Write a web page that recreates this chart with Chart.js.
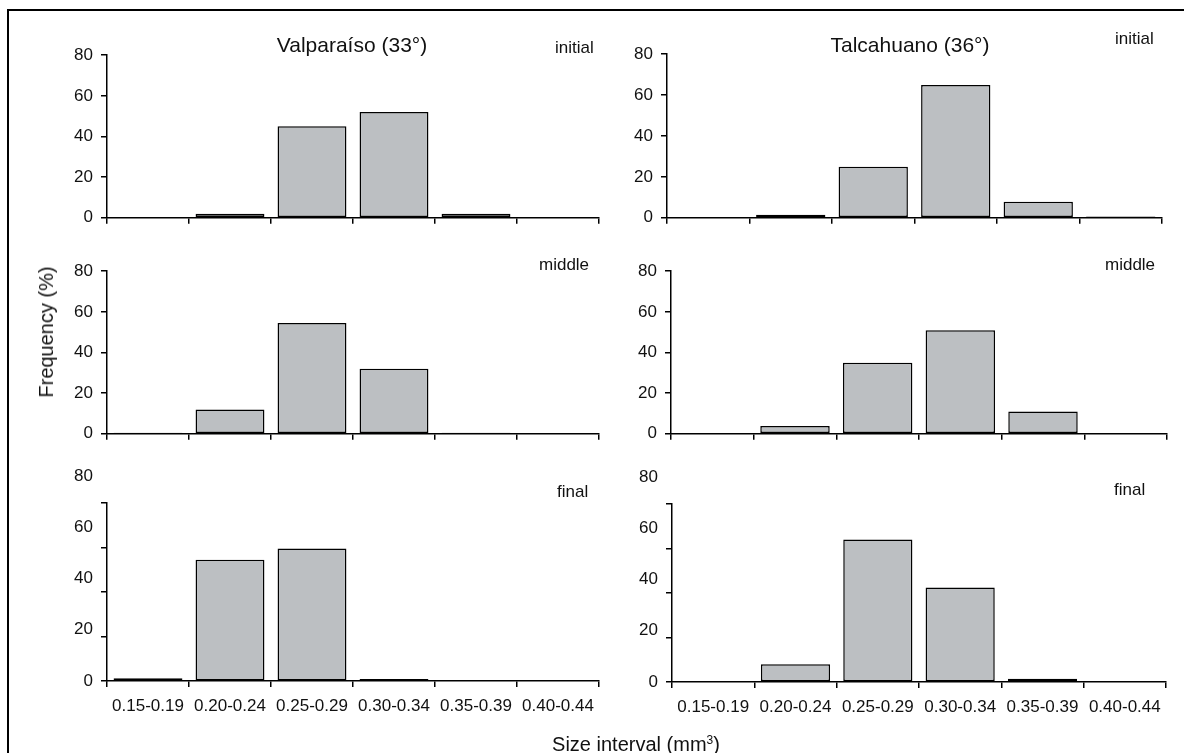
<!DOCTYPE html>
<html>
<head>
<meta charset="utf-8">
<script src="https://cdn.jsdelivr.net/npm/chart.js@4.4.1/dist/chart.umd.min.js"></script>
<style>
    body { margin: 0; background: #fff; width: 1184px; height: 753px; overflow: hidden;
           font-family: "Liberation Sans", Arial, sans-serif; color: #111; }
    #frame { position: absolute; left: 7px; top: 9px; width: 1200px; height: 760px;
             border-left: 2px solid #000; border-top: 2px solid #000; }
    canvas, .lbl { position: absolute; }
    .lbl { white-space: nowrap; line-height: 20px; font-size: 17px; }
    .title { font-size: 21px; line-height: 24px; }
    .axis { font-size: 20px; line-height: 24px; }
</style>
</head>
<body>
<div id="frame"></div>
<div id="wrap"></div>
<script>
// Classi di dimensione (asse x) e tacche (asse y)
const sizeClasses = ['0.15-0.19', '0.20-0.24', '0.25-0.29', '0.30-0.34', '0.35-0.39', '0.40-0.44'];
const yTicks = [0, 20, 40, 60, 80];

// Frequenze (%)
const valparaisoInitial = [0, 2, 45, 52, 2, 0];
const valparaisoMiddle  = [0.5, 12, 54.5, 32, 0.5, 0];
const valparaisoFinal   = [1.2, 54.5, 59.5, 0.9, 0, 0];
const talcahuanoInitial = [0, 1.5, 25, 65, 7.8, 0.6];
const talcahuanoMiddle  = [0, 3.8, 35, 51, 11, 0];
const talcahuanoFinal   = [0, 8, 64, 42.5, 1.5, 0];

const FONT = '"Liberation Sans", Arial, sans-serif';
const INK = '#111';

/**
 * Etichette y "spostate" dei pannelli in basso
 */
const stretchedLabels = {
    id: 'stretchedLabels',
    afterDraw(chart, args, opts) {
        if (!opts.stretch) return;
        const y = chart.scales.y;
        const ctx = chart.ctx;
        ctx.save();
        ctx.font = '17px ' + FONT;
        ctx.fillStyle = INK;
        ctx.textAlign = 'right';
        ctx.textBaseline = 'middle';
        yTicks.forEach(function(v) {
            ctx.fillText(String(v), y.right - 14, y.getPixelForValue(v * opts.stretch));
        });
        ctx.restore();
    }
};

function makePanel(values, box, bottomRow) {
    const topPad = bottomRow ? 40 : 12;
    const xH = bottomRow ? 50 : 10;
    const yW = 60, rightPad = 14;
    const canvas = document.createElement('canvas');
    canvas.width = box.r - box.l + yW + rightPad;
    canvas.height = topPad + (box.b - box.t) + xH;
    canvas.style.left = (box.l - yW) + 'px';
    canvas.style.top = (box.t - topPad) + 'px';
    document.getElementById('wrap').appendChild(canvas);

    new Chart(canvas.getContext('2d'), {
        type: 'bar',
        data: {
            labels: sizeClasses,
            datasets: [{
                data: values,
                backgroundColor: '#bcbfc2',
                borderColor: '#000',
                borderWidth: 1.5,
                borderSkipped: false,
                barPercentage: 0.84,
                categoryPercentage: 1.0
            }]
        },
        options: {
            responsive: false,
            animation: false,
            layout: { padding: { top: topPad, right: rightPad, left: 0, bottom: 0 } },
            plugins: {
                legend: { display: false },
                tooltip: { enabled: false },
                stretchedLabels: { stretch: bottomRow ? 1.151 : 0 }
            },
            scales: {
                x: {
                    offset: true,
                    grid: { offset: true, drawOnChartArea: false, tickLength: 6, color: '#000', lineWidth: 1.5 },
                    border: { color: '#000', width: 1.5 },
                    ticks: { display: bottomRow, font: { family: FONT, size: 17 }, color: INK,
                             padding: 9, maxRotation: 0, autoSkip: false },
                    afterFit: function(s) { s.height = xH; }
                },
                y: {
                    min: 0,
                    max: 80,
                    afterBuildTicks: function(s) { s.ticks = yTicks.map(function(v) { return { value: v }; }); },
                    grid: { drawOnChartArea: false, tickLength: 6, color: '#000', lineWidth: 1.5 },
                    border: { color: '#000', width: 1.5 },
                    ticks: { display: !bottomRow, font: { family: FONT, size: 17 }, color: INK, padding: 8 },
                    afterFit: function(s) { s.width = yW; }
                }
            }
        },
        plugins: [stretchedLabels]
    });
}

makePanel(valparaisoInitial, { l: 107, r: 599, t: 49, b: 226 }, false);
makePanel(talcahuanoInitial, { l: 667, r: 1162, t: 48, b: 226 }, false);
makePanel(valparaisoMiddle,  { l: 107, r: 599, t: 265, b: 442 }, false);
makePanel(talcahuanoMiddle,  { l: 671, r: 1167, t: 265, b: 442 }, false);
makePanel(valparaisoFinal,   { l: 107, r: 599, t: 503, b: 681 }, true);
makePanel(talcahuanoFinal,   { l: 672, r: 1166, t: 504, b: 682 }, true);

// Testi
function addText(html, cls, left, cy) {
    const d = document.createElement('div');
    d.className = 'lbl ' + cls;
    d.innerHTML = html;
    d.style.left = left + 'px';
    d.style.top = cy + 'px';
    d.style.transform = 'translateY(-50%)';
    document.body.appendChild(d);
    return d;
}
addText('Valparaíso (33°)', 'title', 352, 45).style.transform = 'translate(-50%, -50%)';
addText('Talcahuano (36°)', 'title', 910, 45).style.transform = 'translate(-50%, -50%)';
addText('initial', '', 555, 48);
addText('initial', '', 1115, 39);
addText('middle', '', 539, 265);
addText('middle', '', 1105, 265);
addText('final', '', 557, 492);
addText('final', '', 1114, 490);
addText('Frequency (%)', 'axis', 46, 332).style.transform = 'translate(-50%, -50%) rotate(-90deg)';
addText('Size interval (mm<sup style="font-size:12px">3</sup>)', 'axis', 636, 742).style.transform = 'translate(-50%, -50%)';
</script>
</body>
</html>
